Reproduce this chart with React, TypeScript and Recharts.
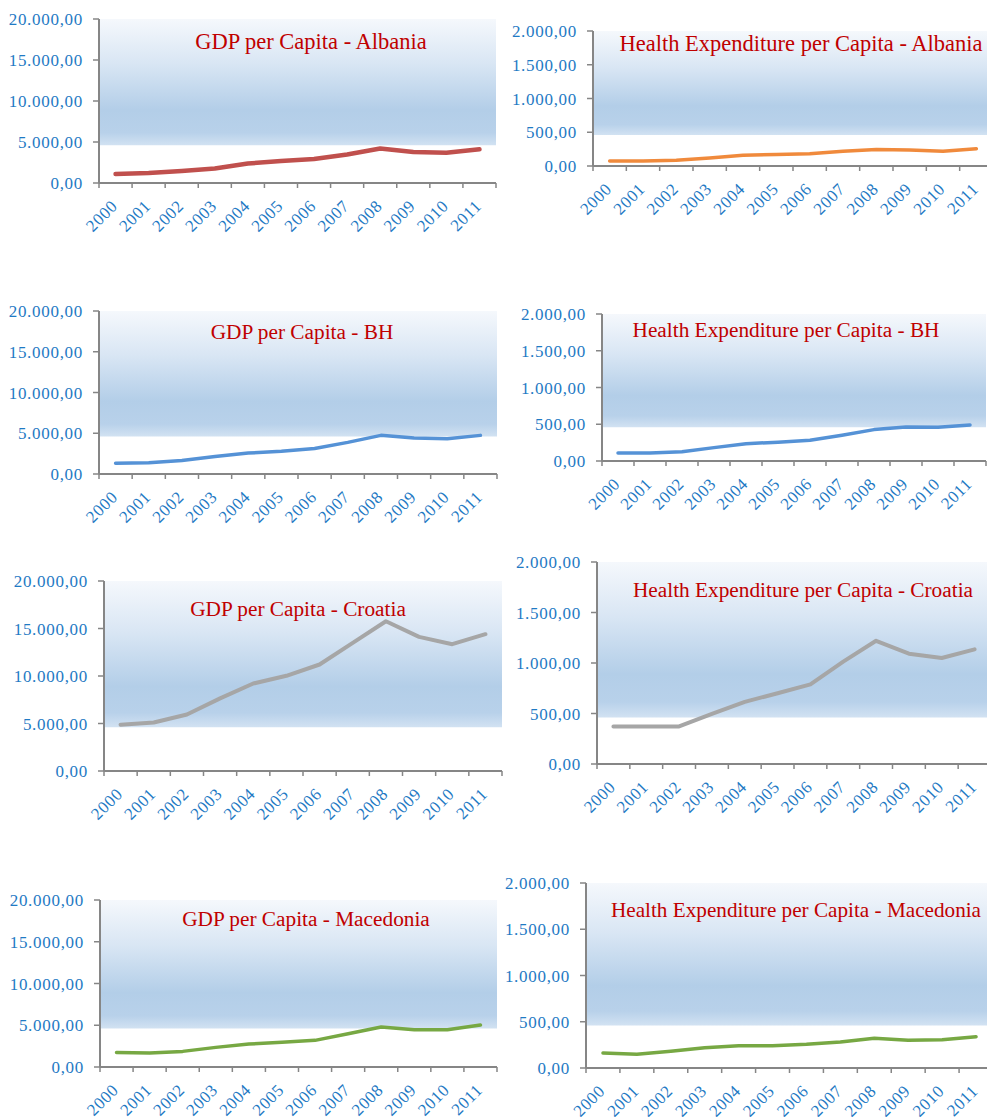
import { LineChart, Line, XAxis, YAxis, ReferenceArea } from "recharts";

const years = ["2000", "2001", "2002", "2003", "2004", "2005", "2006", "2007", "2008", "2009", "2010", "2011"];

const gdpTicks = [0, 5000, 10000, 15000, 20000];
const healthTicks = [0, 500, 1000, 1500, 2000];

const gdpAlbania = [1100, 1220, 1460, 1760, 2370, 2690, 2930, 3470, 4200, 3790, 3700, 4120];
const healthAlbania = [74, 74, 84, 118, 158, 172, 183, 217, 246, 236, 217, 256];
const gdpBH = [1310, 1390, 1670, 2160, 2570, 2780, 3140, 3880, 4740, 4410, 4330, 4740];
const healthBH = [109, 109, 127, 182, 236, 255, 282, 350, 427, 464, 459, 491];
const gdpCroatia = [4870, 5110, 5950, 7640, 9210, 10020, 11210, 13490, 15760, 14120, 13350, 14400];
const healthCroatia = [372, 372, 372, 497, 615, 701, 789, 1013, 1220, 1092, 1049, 1135];
const gdpMacedonia = [1750, 1670, 1870, 2350, 2750, 2950, 3190, 3980, 4780, 4460, 4460, 5020];
const healthMacedonia = [162, 148, 180, 220, 241, 241, 256, 281, 321, 299, 306, 339];

// plot box (x0,y0)-(x1,y1) and title centre, in page pixels
const panels = [
  { id: "p1", title: "GDP per Capita - Albania", values: gdpAlbania, ticks: gdpTicks, color: "#c0504d", width: 4.5, x0: 99, y0: 19, x1: 496, y1: 183, tx: 311, ty: 42, ts: 22.5 },
  { id: "p2", title: "Health Expenditure per Capita - Albania", values: healthAlbania, ticks: healthTicks, color: "#f08a3c", width: 3.5, x0: 593, y0: 31, x1: 993, y1: 166, tx: 801, ty: 44, ts: 22.5 },
  { id: "p3", title: "GDP per Capita - BH", values: gdpBH, ticks: gdpTicks, color: "#5592d6", width: 3.5, x0: 99, y0: 311, x1: 497, y1: 474, tx: 302, ty: 333, ts: 21.3 },
  { id: "p4", title: "Health Expenditure per Capita - BH", values: healthBH, ticks: healthTicks, color: "#5592d6", width: 3.5, x0: 602, y0: 314, x1: 986, y1: 461, tx: 786, ty: 331, ts: 21.3 },
  { id: "p5", title: "GDP per Capita - Croatia", values: gdpCroatia, ticks: gdpTicks, color: "#a6a6a6", width: 4, x0: 104, y0: 581, x1: 502, y1: 771, tx: 298, ty: 610, ts: 21.3 },
  { id: "p6", title: "Health Expenditure per Capita - Croatia", values: healthCroatia, ticks: healthTicks, color: "#a6a6a6", width: 4, x0: 597, y0: 562, x1: 991, y1: 764, tx: 803, ty: 591, ts: 21.3 },
  { id: "p7", title: "GDP per Capita - Macedonia", values: gdpMacedonia, ticks: gdpTicks, color: "#77a843", width: 3.5, x0: 100, y0: 900, x1: 497, y1: 1067, tx: 306, ty: 920, ts: 21.3 },
  { id: "p8", title: "Health Expenditure per Capita - Macedonia", values: healthMacedonia, ticks: healthTicks, color: "#77a843", width: 3.5, x0: 586, y0: 883, x1: 993, y1: 1068, tx: 796, ty: 911, ts: 21.2 },
];

const FONT = "'Liberation Serif', 'Times New Roman', serif";
const LABEL = "#1f7ac4";
const AXIS = "#868686";
const YW = 95;
const TOP = 12;
const RIGHT = 2;
const BOTTOM = 58;

function fmt(v: number) {
  const [i, d] = v.toFixed(2).split(".");
  return i.replace(/\B(?=(\d{3})+(?!\d))/g, ".") + "," + d;
}

function YearTick(props: any) {
  const { x, y, payload, index, half } = props;
  const tx = x + 3;
  const ty = y + 24;
  return (
    <g>
      <line x1={x - half} y1={y} x2={x - half} y2={y + 5} stroke={AXIS} strokeWidth={1.5} />
      {index === years.length - 1 && (
        <line x1={x + half} y1={y} x2={x + half} y2={y + 5} stroke={AXIS} strokeWidth={1.5} />
      )}
      <text
        x={tx}
        y={ty}
        textAnchor="end"
        transform={`rotate(-45, ${tx}, ${ty})`}
        fill={LABEL}
        fontFamily={FONT}
        fontSize={17}
        letterSpacing={0.6}
      >
        {payload.value}
      </text>
    </g>
  );
}

function Panel({ p }: { p: (typeof panels)[number] }) {
  const data = years.map((year, i) => ({ year, value: p.values[i] }));
  const max = p.ticks[p.ticks.length - 1];
  const w = YW + (p.x1 - p.x0) + RIGHT;
  const h = TOP + (p.y1 - p.y0) + BOTTOM;
  const half = (p.x1 - p.x0) / years.length / 2;
  return (
    <div style={{ position: "absolute", left: p.x0 - YW, top: p.y0 - TOP }}>
      <LineChart width={w} height={h} data={data} margin={{ top: TOP, right: RIGHT, left: 0, bottom: 0 }}>
        <defs>
          <linearGradient id={`band-${p.id}`} x1="0" y1="0" x2="0" y2="1">
            <stop offset="0%" stopColor="#f5f8fc" />
            <stop offset="35%" stopColor="#d9e6f4" />
            <stop offset="72%" stopColor="#b3cee8" />
            <stop offset="90%" stopColor="#b8d1ea" />
            <stop offset="100%" stopColor="#d2e2f2" />
          </linearGradient>
        </defs>
        <ReferenceArea y1={max * 0.23} y2={max} fill={`url(#band-${p.id})`} fillOpacity={1} stroke="none" />
        <XAxis
          dataKey="year"
          scale="band"
          height={BOTTOM}
          interval={0}
          tickSize={0}
          tickMargin={0}
          tickLine={false}
          axisLine={{ stroke: AXIS, strokeWidth: 2 }}
          tick={<YearTick half={half} />}
        />
        <YAxis
          width={YW}
          domain={[0, max]}
          ticks={p.ticks}
          interval={0}
          tickFormatter={fmt}
          tickSize={6}
          tickMargin={10}
          axisLine={{ stroke: AXIS, strokeWidth: 2 }}
          tickLine={{ stroke: AXIS, strokeWidth: 1.5 }}
          tick={{ fill: LABEL, fontFamily: FONT, fontSize: 17, letterSpacing: 0.7 }}
        />
        <Line
          type="linear"
          dataKey="value"
          stroke={p.color}
          strokeWidth={p.width}
          strokeLinecap="round"
          strokeLinejoin="round"
          dot={false}
          activeDot={false}
          isAnimationActive={false}
        />
      </LineChart>
      <div
        style={{
          position: "absolute",
          left: p.tx - (p.x0 - YW),
          top: p.ty - (p.y0 - TOP),
          transform: "translate(-50%, -50%)",
          whiteSpace: "nowrap",
          fontFamily: FONT,
          fontSize: p.ts,
          lineHeight: 1,
          color: "#c00000",
        }}
      >
        {p.title}
      </div>
    </div>
  );
}

export default function App() {
  return (
    <div
      style={{
        position: "absolute",
        left: 0,
        top: 0,
        width: 987,
        height: 1117,
        overflow: "hidden",
        background: "#ffffff",
      }}
    >
      {panels.map((p) => (
        <Panel key={p.id} p={p} />
      ))}
    </div>
  );
}
